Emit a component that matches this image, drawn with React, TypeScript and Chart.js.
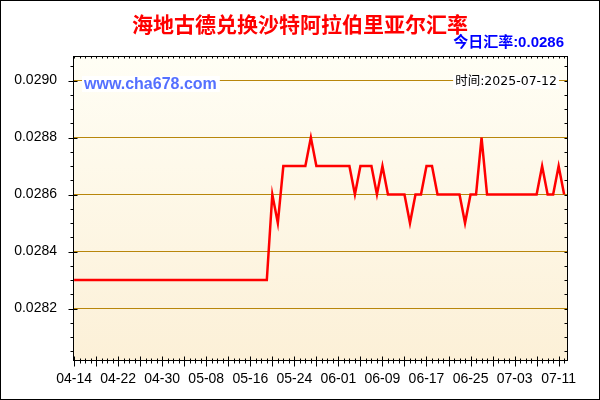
import React, { useEffect, useRef } from "react";
import { Chart, registerables } from "chart.js";

Chart.register(...registerables);

const dates = [
  "04-14", "04-15", "04-16", "04-17", "04-18", "04-19", "04-20", "04-21", "04-22", "04-23",
  "04-24", "04-25", "04-26", "04-27", "04-28", "04-29", "04-30",
  "05-01", "05-02", "05-03", "05-04", "05-05", "05-06", "05-07", "05-08", "05-09", "05-10",
  "05-11", "05-12", "05-13", "05-14", "05-15", "05-16", "05-17", "05-18", "05-19", "05-20",
  "05-21", "05-22", "05-23", "05-24", "05-25", "05-26", "05-27", "05-28", "05-29", "05-30", "05-31",
  "06-01", "06-02", "06-03", "06-04", "06-05", "06-06", "06-07", "06-08", "06-09", "06-10",
  "06-11", "06-12", "06-13", "06-14", "06-15", "06-16", "06-17", "06-18", "06-19", "06-20",
  "06-21", "06-22", "06-23", "06-24", "06-25", "06-26", "06-27", "06-28", "06-29", "06-30",
  "07-01", "07-02", "07-03", "07-04", "07-05", "07-06", "07-07", "07-08", "07-09", "07-10",
  "07-11", "07-12",
];

const rates = [
  // 04-14 .. 04-30
  0.0283, 0.0283, 0.0283, 0.0283, 0.0283, 0.0283, 0.0283, 0.0283, 0.0283, 0.0283,
  0.0283, 0.0283, 0.0283, 0.0283, 0.0283, 0.0283, 0.0283,
  // 05-01 .. 05-31
  0.0283, 0.0283, 0.0283, 0.0283, 0.0283, 0.0283, 0.0283, 0.0283, 0.0283, 0.0283,
  0.0283, 0.0283, 0.0283, 0.0283, 0.0283, 0.0283, 0.0283, 0.0283, 0.0283, 0.0286,
  0.0285, 0.0287, 0.0287, 0.0287, 0.0287, 0.0287, 0.0288, 0.0287, 0.0287, 0.0287, 0.0287,
  // 06-01 .. 06-30
  0.0287, 0.0287, 0.0287, 0.0286, 0.0287, 0.0287, 0.0287, 0.0286, 0.0287, 0.0286,
  0.0286, 0.0286, 0.0286, 0.0285, 0.0286, 0.0286, 0.0287, 0.0287, 0.0286, 0.0286,
  0.0286, 0.0286, 0.0286, 0.0285, 0.0286, 0.0286, 0.0288, 0.0286, 0.0286, 0.0286,
  // 07-01 .. 07-12
  0.0286, 0.0286, 0.0286, 0.0286, 0.0286, 0.0286, 0.0286, 0.0287, 0.0286, 0.0286,
  0.0287, 0.0286,
];

const xTickLabels = ["04-14", "04-22", "04-30", "05-08", "05-16", "05-24", "06-01", "06-09", "06-17", "06-25", "07-03", "07-11"];
const yTickValues = [0.0282, 0.0284, 0.0286, 0.0288, 0.029];

const titleText = "海地古德兑换沙特阿拉伯里亚尔汇率";
const todayLabel = "今日汇率:";
const siteText = "www.cha678.com";
const timeText = "时间:2025-07-12";

const Y_MIN = 0.028016;
const Y_MAX = 0.029086;
const MINOR_STEP = 0.00005;

const decoPlugin = {
  id: "deco",
  beforeDraw(chart: any) {
    const { ctx, chartArea: a } = chart;
    ctx.save();
    ctx.fillStyle = "#ffffff";
    ctx.fillRect(0, 0, chart.width, chart.height);
    const g = ctx.createLinearGradient(0, a.top, 0, a.bottom);
    g.addColorStop(0, "#FFFEF5");
    g.addColorStop(1, "#FCF0D7");
    ctx.fillStyle = g;
    ctx.fillRect(a.left, a.top, a.right - a.left, a.bottom - a.top);
    ctx.restore();
  },
  afterDraw(chart: any) {
    const { ctx, chartArea: a } = chart;
    const xs = chart.scales.x;
    const ys = chart.scales.y;
    ctx.save();
    ctx.strokeStyle = "#000";
    ctx.lineWidth = 1;
    const L = Math.round(a.left) + 0.5;
    const R = Math.round(a.right) - 0.5;
    const T = Math.round(a.top) + 0.5;
    const B = Math.round(a.bottom) - 0.5;
    ctx.beginPath();
    // y-axis ticks
    const kStart = Math.ceil(Y_MIN / MINOR_STEP - 1e-6);
    const kEnd = Math.floor(Y_MAX / MINOR_STEP + 1e-6);
    for (let k = kStart; k <= kEnd; k++) {
      const py = Math.round(ys.getPixelForValue(k * MINOR_STEP)) + 0.5;
      const major = k % 4 === 0;
      if (major) {
        ctx.moveTo(L - 5, py);
        ctx.lineTo(L + 4, py);
      } else {
        ctx.moveTo(L - 3, py);
        ctx.lineTo(L, py);
      }
      ctx.moveTo(R - 3, py);
      ctx.lineTo(R, py);
    }
    // x-axis ticks
    for (let i = 0; i < dates.length; i++) {
      const px = Math.round(xs.getPixelForValue(i)) + 0.5;
      const major = i % 4 === 0;
      if (major) {
        ctx.moveTo(px, B - 4);
        ctx.lineTo(px, B + 6);
      } else {
        ctx.moveTo(px, B - 2);
        ctx.lineTo(px, B + 3);
      }
      ctx.moveTo(px, T);
      ctx.lineTo(px, T + 2);
    }
    ctx.stroke();
    // frame
    ctx.strokeRect(L, T, R - L, B - T);
    // outer border
    ctx.strokeRect(0.5, 0.5, chart.width - 1, chart.height - 1);

    // title
    ctx.textAlign = "center";
    ctx.textBaseline = "middle";
    ctx.fillStyle = "#FF0000";
    ctx.font = 'bold 21px "Noto Sans CJK SC", sans-serif';
    ctx.fillText(titleText, 300, 24);

    // today's rate
    ctx.textAlign = "right";
    ctx.fillStyle = "#0000FF";
    ctx.font = 'bold 15px "Liberation Sans", "Noto Sans CJK SC", sans-serif';
    ctx.fillText(todayLabel + rates[rates.length - 1].toFixed(4), 564, 43);

    // site watermark
    ctx.font = 'bold 16px "Liberation Sans", Arial, sans-serif';
    const sw = ctx.measureText(siteText).width;
    ctx.fillStyle = "#ffffff";
    ctx.fillRect(a.left + 9, 76, sw + 5, 16);
    ctx.textAlign = "left";
    ctx.fillStyle = "#5470FF";
    ctx.fillText(siteText, a.left + 11, 84.5);

    // time label
    ctx.font = '12.5px "DejaVu Sans", "Noto Sans CJK SC", sans-serif';
    const tw = ctx.measureText(timeText).width;
    ctx.fillStyle = "#ffffff";
    ctx.fillRect(557 - tw - 2, 75, tw + 4, 14);
    ctx.textAlign = "right";
    ctx.fillStyle = "#000000";
    ctx.fillText(timeText, 557, 82);
    ctx.restore();
  },
};

export default function App() {
  const ref = useRef<HTMLCanvasElement | null>(null);

  useEffect(() => {
    if (!ref.current) return;
    const chart = new Chart(ref.current, {
      type: "line",
      data: {
        datasets: [
          {
            data: rates.map((v, i) => ({ x: i, y: v })),
            borderColor: "#FF0000",
            borderWidth: 2.5,
            pointRadius: 0,
            tension: 0,
            fill: false,
          },
        ],
      },
      options: {
        animation: false,
        responsive: false,
        devicePixelRatio: 1,
        layout: { padding: { left: 0, right: 32, top: 56, bottom: 0 } },
        plugins: {
          legend: { display: false },
          title: { display: false },
          tooltip: { enabled: false },
        },
        scales: {
          x: {
            type: "linear",
            min: -0.2,
            max: 89.7,
            afterFit: (s: any) => {
              s.height = 39;
            },
            afterBuildTicks: (s: any) => {
              s.ticks = xTickLabels.map((l) => ({ value: dates.indexOf(l) }));
            },
            ticks: {
              autoSkip: false,
              maxRotation: 0,
              minRotation: 0,
              padding: 10,
              color: "#000",
              font: { family: '"Liberation Sans", Arial, sans-serif', size: 14 },
              callback: (v: any) => dates[Math.round(Number(v))] ?? "",
            },
            grid: { display: false, drawTicks: false },
            border: { display: false },
          },
          y: {
            type: "linear",
            min: Y_MIN,
            max: Y_MAX,
            afterFit: (s: any) => {
              s.width = 73;
            },
            afterBuildTicks: (s: any) => {
              s.ticks = yTickValues.map((v) => ({ value: v }));
            },
            ticks: {
              padding: 16,
              color: "#000",
              font: { family: '"Liberation Sans", Arial, sans-serif', size: 14 },
              callback: (v: any) => Number(v).toFixed(4),
            },
            grid: { display: true, drawTicks: false, color: "#B8860B", lineWidth: 1 },
            border: { display: false },
          },
        },
      },
      plugins: [decoPlugin],
    });
    return () => chart.destroy();
  }, []);

  return (
    <div style={{ position: "fixed", left: 0, top: 0, width: 600, height: 400 }}>
      <canvas ref={ref} width={600} height={400} style={{ display: "block", width: 600, height: 400 }} />
    </div>
  );
}
